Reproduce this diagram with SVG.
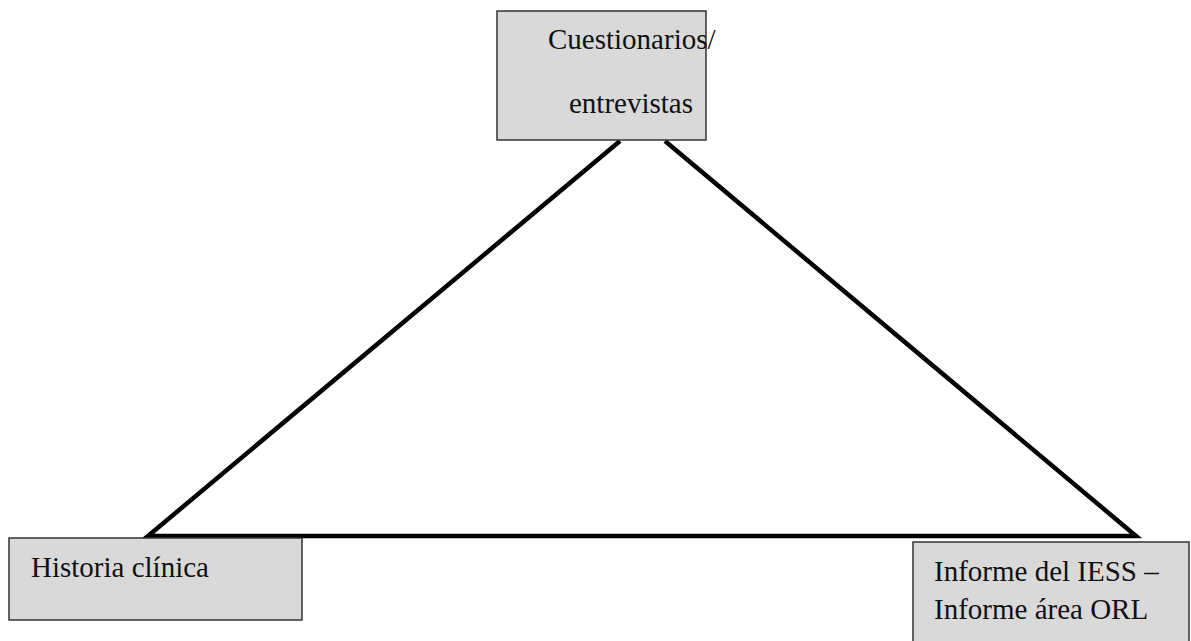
<svg xmlns="http://www.w3.org/2000/svg" width="1191" height="641" viewBox="0 0 1191 641">
<style>
.box{fill:#d9d9d9;stroke:#333;stroke-width:1.5}
.t{font-family:"Liberation Serif",serif;font-size:29px;fill:#111}
.c{stroke:#000;stroke-width:4.5;fill:none;stroke-linejoin:miter}
</style>
<rect width="1191" height="641" fill="#fff"/>
<g id="connectors">
<polyline class="c" points="620,141 148,536 1136,536 665,141"/>
</g>
<g id="cuestionarios">
<rect class="box" x="497" y="11" width="209" height="129"/>
<text class="t" x="548" y="49">Cuestionarios/</text>
<text class="t" x="569" y="113">entrevistas</text>
</g>
<g id="historia">
<rect class="box" x="9" y="538" width="293" height="82"/>
<text class="t" x="31" y="577">Historia clínica</text>
</g>
<g id="informe">
<rect class="box" x="913" y="542" width="276" height="105"/>
<text class="t" x="934" y="581">Informe del IESS –</text>
<text class="t" x="934" y="619">Informe área ORL</text>
</g>
</svg>
